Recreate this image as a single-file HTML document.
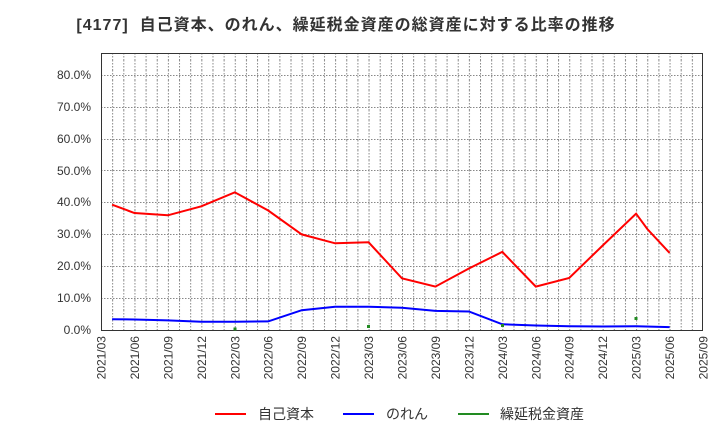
<!DOCTYPE html>
<html><head><meta charset="utf-8"><style>
body{margin:0;background:#fff}
svg{display:block;font-family:"Liberation Sans","Noto Sans CJK JP",sans-serif}
</style></head><body>
<svg width="720" height="440" viewBox="0 0 720 440">
<defs>
<pattern id="vg" x="101" y="0" width="11.148" height="10" patternUnits="userSpaceOnUse">
<line x1="0.5" y1="0" x2="0.5" y2="10" stroke="#888" stroke-width="1" stroke-dasharray="1.5,1.5"/>
</pattern>
</defs>
<text x="346" y="30" text-anchor="middle" font-size="16" letter-spacing="1" font-weight="bold" fill="#333" xml:space="preserve">[4177]  自己資本、のれん、繰延税金資産の総資産に対する比率の推移</text>
<rect x="101" y="53" width="601" height="277" fill="url(#vg)"/>
<g stroke="#888" stroke-dasharray="1.5,1.5" stroke-width="1">
<line x1="101" x2="702" y1="298.5" y2="298.5"/><line x1="101" x2="702" y1="266.5" y2="266.5"/>
<line x1="101" x2="702" y1="234.5" y2="234.5"/><line x1="101" x2="702" y1="202.5" y2="202.5"/>
<line x1="101" x2="702" y1="170.5" y2="170.5"/><line x1="101" x2="702" y1="139.5" y2="139.5"/>
<line x1="101" x2="702" y1="107.5" y2="107.5"/><line x1="101" x2="702" y1="75.5" y2="75.5"/>
</g>
<rect x="101.5" y="53.5" width="601" height="277" fill="none" stroke="#333" stroke-width="1"/>
<g font-size="12" fill="#333" text-anchor="end">
<text x="91" y="334">0.0%</text><text x="91" y="302">10.0%</text><text x="91" y="270">20.0%</text>
<text x="91" y="238">30.0%</text><text x="91" y="206">40.0%</text><text x="91" y="175">50.0%</text>
<text x="91" y="143">60.0%</text><text x="91" y="111">70.0%</text><text x="91" y="79">80.0%</text>
</g>
<g font-size="12" fill="#333" text-anchor="end">
<text transform="translate(105.5,336) rotate(-90)">2021/03</text>
<text transform="translate(138.9,336) rotate(-90)">2021/06</text>
<text transform="translate(172.4,336) rotate(-90)">2021/09</text>
<text transform="translate(205.8,336) rotate(-90)">2021/12</text>
<text transform="translate(239.3,336) rotate(-90)">2022/03</text>
<text transform="translate(272.7,336) rotate(-90)">2022/06</text>
<text transform="translate(306.2,336) rotate(-90)">2022/09</text>
<text transform="translate(339.6,336) rotate(-90)">2022/12</text>
<text transform="translate(373.1,336) rotate(-90)">2023/03</text>
<text transform="translate(406.5,336) rotate(-90)">2023/06</text>
<text transform="translate(439.9,336) rotate(-90)">2023/09</text>
<text transform="translate(473.4,336) rotate(-90)">2023/12</text>
<text transform="translate(506.8,336) rotate(-90)">2024/03</text>
<text transform="translate(540.3,336) rotate(-90)">2024/06</text>
<text transform="translate(573.7,336) rotate(-90)">2024/09</text>
<text transform="translate(607.2,336) rotate(-90)">2024/12</text>
<text transform="translate(640.6,336) rotate(-90)">2025/03</text>
<text transform="translate(674.1,336) rotate(-90)">2025/06</text>
<text transform="translate(707.5,336) rotate(-90)">2025/09</text>
</g>
<polyline fill="none" stroke="#f00" stroke-width="2" points="112.1,204.7 134.4,213 167.9,215.3 201.3,206.3 234.8,192.3 268.2,210.5 301.7,234.4 335.1,243.3 368.6,242.3 402,278.4 435.4,286.6 468.9,268.5 502.3,251.9 535.8,286.6 569.2,278 602.7,245.5 636.1,213.7 647.3,229 669.6,252.9"/>
<polyline fill="none" stroke="#00f" stroke-width="2" points="112.1,319.2 134.4,319.5 167.9,320.4 201.3,321.7 234.8,321.7 268.2,321.4 301.7,310.2 335.1,306.7 368.6,306.7 402,307.7 435.4,310.9 468.9,311.5 502.3,324.3 535.8,325.5 569.2,326.2 602.7,326.5 636.1,326.2 669.6,327.1"/>
<g fill="#228b22">
<rect x="233.5" y="327.5" width="3" height="3"/><rect x="367" y="325" width="3" height="3"/>
<rect x="501" y="324" width="3" height="3"/><rect x="634.5" y="317" width="3" height="3"/>
</g>
<g font-size="14" fill="#333">
<line x1="215" x2="246" y1="414" y2="414" stroke="#f00" stroke-width="2"/>
<text x="258" y="419">自己資本</text>
<line x1="343" x2="374" y1="414" y2="414" stroke="#00f" stroke-width="2"/>
<text x="386" y="419">のれん</text>
<line x1="458" x2="489" y1="414" y2="414" stroke="#228b22" stroke-width="2"/>
<text x="500" y="419">繰延税金資産</text>
</g>
</svg>
</body></html>
